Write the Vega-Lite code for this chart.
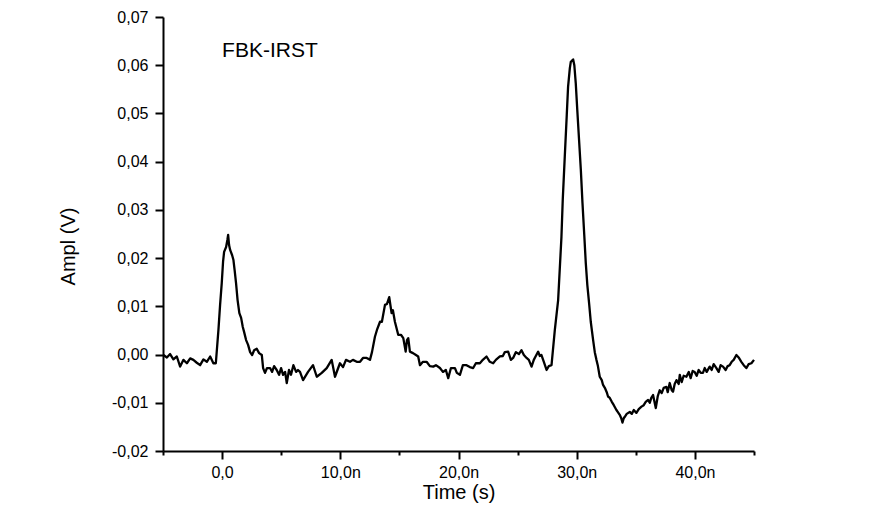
{
  "$schema": "https://vega.github.io/schema/vega-lite/v6.json",
  "width": 591,
  "height": 434,
  "autosize": {"type": "none"},
  "padding": {"left": 163, "top": 17, "right": 116, "bottom": 60},
  "background": "white",
  "config": {
    "view": {"stroke": null},
    "font": "Liberation Sans",
    "axis": {
      "grid": false,
      "domainColor": "black",
      "domainWidth": 2,
      "tickColor": "black",
      "tickWidth": 2,
      "labelColor": "black",
      "labelFont": "Liberation Sans",
      "labelFontSize": 16,
      "titleFont": "Liberation Sans",
      "titleFontSize": 20,
      "titleFontWeight": "normal",
      "titleColor": "black",
      "labelOverlap": false,
      "labelFlush": false
    }
  },
  "datasets": {
    "signal": [
      {"t": -4.96, "v": -0.0001}, {"t": -4.67, "v": -0.0006}, {"t": -4.40, "v": 0.0001}, {"t": -4.12, "v": -0.0010},
      {"t": -3.83, "v": -0.0004}, {"t": -3.55, "v": -0.0025}, {"t": -3.27, "v": -0.0011}, {"t": -2.98, "v": -0.0018},
      {"t": -2.70, "v": -0.0008}, {"t": -2.43, "v": -0.0011}, {"t": -2.14, "v": -0.0017}, {"t": -1.86, "v": -0.0022},
      {"t": -1.58, "v": -0.0010}, {"t": -1.29, "v": -0.0015}, {"t": -1.01, "v": -0.0004}, {"t": -0.74, "v": -0.0018},
      {"t": -0.53, "v": -0.0018}, {"t": -0.31, "v": 0.0051}, {"t": -0.17, "v": 0.0103}, {"t": -0.03, "v": 0.0148},
      {"t": 0.08, "v": 0.0192}, {"t": 0.17, "v": 0.0213}, {"t": 0.34, "v": 0.0223}, {"t": 0.45, "v": 0.0238},
      {"t": 0.51, "v": 0.0248}, {"t": 0.59, "v": 0.0227}, {"t": 0.68, "v": 0.0217}, {"t": 0.85, "v": 0.0206},
      {"t": 0.96, "v": 0.0196}, {"t": 1.06, "v": 0.0175}, {"t": 1.18, "v": 0.0148}, {"t": 1.31, "v": 0.0113},
      {"t": 1.46, "v": 0.0086}, {"t": 1.61, "v": 0.0076}, {"t": 1.75, "v": 0.0057}, {"t": 1.86, "v": 0.0047},
      {"t": 2.03, "v": 0.0030}, {"t": 2.20, "v": 0.0020}, {"t": 2.37, "v": 0.0005}, {"t": 2.54, "v": -0.0001},
      {"t": 2.71, "v": 0.0009}, {"t": 2.93, "v": 0.0012}, {"t": 3.13, "v": 0.0003}, {"t": 3.36, "v": -0.0001},
      {"t": 3.47, "v": -0.0028}, {"t": 3.63, "v": -0.0038}, {"t": 3.80, "v": -0.0028}, {"t": 4.06, "v": -0.0028},
      {"t": 4.23, "v": -0.0036}, {"t": 4.40, "v": -0.0024}, {"t": 4.62, "v": -0.0032}, {"t": 4.82, "v": -0.0042},
      {"t": 4.99, "v": -0.0028}, {"t": 5.16, "v": -0.0042}, {"t": 5.33, "v": -0.0036}, {"t": 5.47, "v": -0.0059},
      {"t": 5.66, "v": -0.0032}, {"t": 5.83, "v": -0.0042}, {"t": 6.03, "v": -0.0022}, {"t": 6.26, "v": -0.0036},
      {"t": 6.42, "v": -0.0032}, {"t": 6.59, "v": -0.0036}, {"t": 6.85, "v": -0.0053}, {"t": 7.27, "v": -0.0036},
      {"t": 7.69, "v": -0.0022}, {"t": 8.01, "v": -0.0046}, {"t": 8.43, "v": -0.0038}, {"t": 8.85, "v": -0.0028},
      {"t": 9.27, "v": -0.0011}, {"t": 9.55, "v": -0.0046}, {"t": 9.97, "v": -0.0018}, {"t": 10.23, "v": -0.0026},
      {"t": 10.48, "v": -0.0011}, {"t": 10.82, "v": -0.0015}, {"t": 11.07, "v": -0.0011}, {"t": 11.39, "v": -0.0015},
      {"t": 11.67, "v": -0.0015}, {"t": 11.92, "v": -0.0007}, {"t": 12.23, "v": -0.0007}, {"t": 12.51, "v": -0.0011},
      {"t": 12.68, "v": 0.0005}, {"t": 12.93, "v": 0.0037}, {"t": 13.10, "v": 0.0051}, {"t": 13.36, "v": 0.0068},
      {"t": 13.52, "v": 0.0068}, {"t": 13.78, "v": 0.0103}, {"t": 13.95, "v": 0.0105}, {"t": 14.14, "v": 0.0119},
      {"t": 14.34, "v": 0.0086}, {"t": 14.45, "v": 0.0092}, {"t": 14.62, "v": 0.0068}, {"t": 14.90, "v": 0.0041},
      {"t": 15.13, "v": 0.0041}, {"t": 15.33, "v": 0.0034}, {"t": 15.53, "v": 0.0006}, {"t": 15.64, "v": 0.0030},
      {"t": 15.75, "v": 0.0034}, {"t": 15.89, "v": 0.0006}, {"t": 16.15, "v": 0.0003}, {"t": 16.40, "v": -0.0001},
      {"t": 16.59, "v": -0.0004}, {"t": 16.74, "v": -0.0022}, {"t": 16.99, "v": -0.0015}, {"t": 17.30, "v": -0.0015},
      {"t": 17.58, "v": -0.0024}, {"t": 17.86, "v": -0.0025}, {"t": 18.09, "v": -0.0022}, {"t": 18.43, "v": -0.0028},
      {"t": 18.68, "v": -0.0036}, {"t": 18.93, "v": -0.0032}, {"t": 19.13, "v": -0.0049}, {"t": 19.36, "v": -0.0028},
      {"t": 19.70, "v": -0.0028}, {"t": 19.86, "v": -0.0038}, {"t": 20.12, "v": -0.0042}, {"t": 20.37, "v": -0.0022},
      {"t": 20.68, "v": -0.0022}, {"t": 20.96, "v": -0.0026}, {"t": 21.24, "v": -0.0028}, {"t": 21.47, "v": -0.0018},
      {"t": 21.81, "v": -0.0018}, {"t": 22.06, "v": -0.0011}, {"t": 22.37, "v": -0.0004}, {"t": 22.65, "v": -0.0015},
      {"t": 22.93, "v": -0.0018}, {"t": 23.16, "v": -0.0011}, {"t": 23.50, "v": -0.0004}, {"t": 23.75, "v": -0.0003},
      {"t": 23.92, "v": 0.0005}, {"t": 24.20, "v": 0.0006}, {"t": 24.43, "v": -0.0011}, {"t": 24.62, "v": -0.0007},
      {"t": 24.85, "v": 0.0005}, {"t": 25.11, "v": 0.0001}, {"t": 25.33, "v": 0.0009}, {"t": 25.53, "v": -0.0001},
      {"t": 25.76, "v": -0.0007}, {"t": 25.95, "v": -0.0011}, {"t": 26.18, "v": -0.0025}, {"t": 26.37, "v": -0.0011},
      {"t": 26.54, "v": -0.0003}, {"t": 26.74, "v": 0.0006}, {"t": 26.88, "v": -0.0003}, {"t": 27.02, "v": -0.0001},
      {"t": 27.22, "v": -0.0015}, {"t": 27.45, "v": -0.0032}, {"t": 27.64, "v": -0.0024}, {"t": 27.87, "v": -0.0022},
      {"t": 28.15, "v": 0.0051}, {"t": 28.43, "v": 0.0113}, {"t": 28.71, "v": 0.0244}, {"t": 28.82, "v": 0.0321},
      {"t": 28.99, "v": 0.0410}, {"t": 29.16, "v": 0.0497}, {"t": 29.27, "v": 0.0555}, {"t": 29.42, "v": 0.0594},
      {"t": 29.50, "v": 0.0607}, {"t": 29.59, "v": 0.0609}, {"t": 29.70, "v": 0.0612}, {"t": 29.80, "v": 0.0600},
      {"t": 29.92, "v": 0.0563}, {"t": 30.05, "v": 0.0507}, {"t": 30.20, "v": 0.0445}, {"t": 30.35, "v": 0.0383},
      {"t": 30.49, "v": 0.0314}, {"t": 30.64, "v": 0.0248}, {"t": 30.77, "v": 0.0189}, {"t": 30.90, "v": 0.0144},
      {"t": 31.05, "v": 0.0106}, {"t": 31.19, "v": 0.0068}, {"t": 31.39, "v": 0.0030}, {"t": 31.53, "v": 0.0005},
      {"t": 31.67, "v": -0.0011}, {"t": 31.78, "v": -0.0022}, {"t": 31.95, "v": -0.0046}, {"t": 32.12, "v": -0.0053},
      {"t": 32.23, "v": -0.0063}, {"t": 32.38, "v": -0.0069}, {"t": 32.54, "v": -0.0078}, {"t": 32.65, "v": -0.0087},
      {"t": 32.80, "v": -0.0090}, {"t": 32.97, "v": -0.0098}, {"t": 33.14, "v": -0.0105}, {"t": 33.36, "v": -0.0115},
      {"t": 33.47, "v": -0.0119}, {"t": 33.64, "v": -0.0125}, {"t": 33.77, "v": -0.0132}, {"t": 33.87, "v": -0.0141},
      {"t": 33.98, "v": -0.0132}, {"t": 34.07, "v": -0.0129}, {"t": 34.23, "v": -0.0123}, {"t": 34.49, "v": -0.0119},
      {"t": 34.66, "v": -0.0123}, {"t": 34.83, "v": -0.0115}, {"t": 35.05, "v": -0.0121}, {"t": 35.25, "v": -0.0113},
      {"t": 35.48, "v": -0.0108}, {"t": 35.67, "v": -0.0105}, {"t": 35.84, "v": -0.0098}, {"t": 36.04, "v": -0.0094},
      {"t": 36.18, "v": -0.0100}, {"t": 36.31, "v": -0.0090}, {"t": 36.46, "v": -0.0084}, {"t": 36.69, "v": -0.0111},
      {"t": 36.86, "v": -0.0086}, {"t": 37.02, "v": -0.0074}, {"t": 37.19, "v": -0.0080}, {"t": 37.36, "v": -0.0069},
      {"t": 37.59, "v": -0.0067}, {"t": 37.70, "v": -0.0078}, {"t": 37.87, "v": -0.0059}, {"t": 38.04, "v": -0.0074},
      {"t": 38.15, "v": -0.0077}, {"t": 38.29, "v": -0.0061}, {"t": 38.44, "v": -0.0053}, {"t": 38.63, "v": -0.0061},
      {"t": 38.72, "v": -0.0042}, {"t": 38.88, "v": -0.0057}, {"t": 39.05, "v": -0.0044}, {"t": 39.28, "v": -0.0046},
      {"t": 39.48, "v": -0.0036}, {"t": 39.64, "v": -0.0049}, {"t": 39.81, "v": -0.0034}, {"t": 39.98, "v": -0.0036},
      {"t": 40.15, "v": -0.0044}, {"t": 40.32, "v": -0.0032}, {"t": 40.49, "v": -0.0038}, {"t": 40.68, "v": -0.0038},
      {"t": 40.83, "v": -0.0028}, {"t": 41.00, "v": -0.0036}, {"t": 41.25, "v": -0.0025}, {"t": 41.42, "v": -0.0032},
      {"t": 41.59, "v": -0.0020}, {"t": 41.82, "v": -0.0028}, {"t": 42.01, "v": -0.0036}, {"t": 42.18, "v": -0.0022},
      {"t": 42.38, "v": -0.0025}, {"t": 42.60, "v": -0.0032}, {"t": 42.77, "v": -0.0024}, {"t": 42.94, "v": -0.0022},
      {"t": 43.11, "v": -0.0015}, {"t": 43.28, "v": -0.0011}, {"t": 43.51, "v": -0.0001}, {"t": 43.70, "v": -0.0006},
      {"t": 43.93, "v": -0.0015}, {"t": 44.13, "v": -0.0022}, {"t": 44.35, "v": -0.0028}, {"t": 44.55, "v": -0.0020},
      {"t": 44.78, "v": -0.0018}, {"t": 45.00, "v": -0.0011}
    ],
    "label": [{"t": 0, "v": 0.063, "text": "FBK-IRST"}]
  },
  "layer": [
    {
      "data": {"name": "signal"},
      "mark": {"type": "line", "color": "black", "strokeWidth": 2.3, "strokeJoin": "round"},
      "encoding": {
        "x": {
          "field": "t", "type": "quantitative",
          "scale": {"domain": [-5, 45], "nice": false, "zero": false},
          "axis": {
            "title": "Time (s)",
            "values": [-5, 0, 5, 10, 15, 20, 25, 30, 35, 40, 45],
            "labelExpr": "datum.value == 0 ? '0,0' : (datum.value % 10 == 0 ? format(datum.value, '.0f') + ',0n' : '')",
            "tickSize": {"condition": {"test": "datum.value % 10 == 0", "value": 8}, "value": 4},
            "labelPadding": 5,
            "titleY": 41,
            "titleBaseline": "middle"
          }
        },
        "y": {
          "field": "v", "type": "quantitative",
          "scale": {"domain": [-0.02, 0.07], "nice": false, "zero": false},
          "axis": {
            "title": "Ampl (V)",
            "values": [-0.02, -0.015, -0.01, -0.005, 0, 0.005, 0.01, 0.015, 0.02, 0.025, 0.03, 0.035, 0.04, 0.045, 0.05, 0.055, 0.06, 0.065, 0.07],
            "labelExpr": "round(datum.value * 1000) % 10 == 0 ? (datum.value < -0.0001 ? '-' : '') + replace(format(abs(datum.value), '.2f'), '.', ',') : ''",
            "tickSize": {"condition": {"test": "round(datum.value * 1000) % 10 == 0", "value": 8}, "value": 4},
            "labelPadding": 7,
            "titleX": -95,
            "titleY": 229,
            "titleAngle": -90,
            "titleAlign": "center",
            "titleBaseline": "middle"
          }
        }
      }
    },
    {
      "data": {"name": "label"},
      "mark": {"type": "text", "align": "left", "baseline": "middle", "fontSize": 21, "font": "Liberation Sans", "color": "black"},
      "encoding": {
        "x": {"field": "t", "type": "quantitative"},
        "y": {"field": "v", "type": "quantitative"},
        "text": {"field": "text"}
      }
    }
  ]
}
